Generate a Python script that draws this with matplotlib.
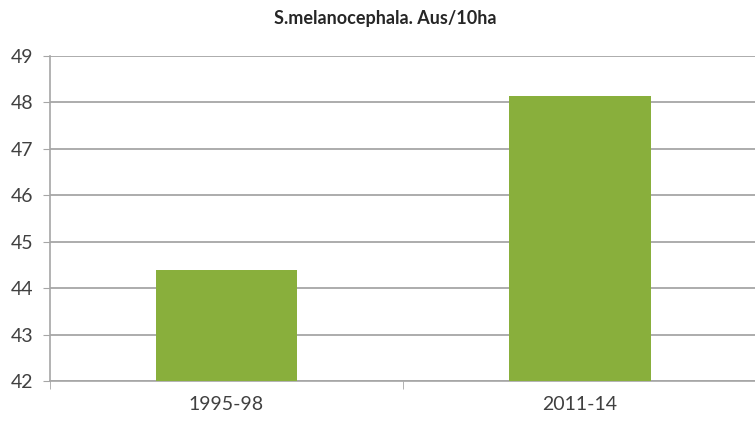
import matplotlib.pyplot as plt
from matplotlib.ticker import FixedLocator

periods = ["1995-98", "2011-14"]
values = [44.4, 48.13]
y_ticks = [42, 43, 44, 45, 46, 47, 48, 49]

plt.rcParams["font.family"] = ["Lato", "DejaVu Sans"]

fig = plt.figure(figsize=(7.55, 4.21), dpi=100)
ax = fig.add_axes([0.066, 0.095, 0.936, 0.772])

x = range(len(periods))
ax.bar(x, values, width=0.4, color="#89AF3C", zorder=3)

ax.set_xlim(-0.5, len(periods) - 0.5)
ax.set_ylim(42, 49)
ax.set_yticks(y_ticks)
ax.set_xticks(list(x))
ax.set_xticklabels(periods)
ax.xaxis.set_minor_locator(FixedLocator([-0.5, 0.5, 1.5]))

ax.grid(axis="y", color="#A6A6A6", linewidth=1.3, zorder=0)
for side in ["top", "right"]:
    ax.spines[side].set_visible(False)
for side in ["left", "bottom"]:
    ax.spines[side].set_color("#A6A6A6")
    ax.spines[side].set_linewidth(1.2)

ax.tick_params(axis="y", length=5, color="#A6A6A6", labelsize=14,
               labelcolor="#404040", pad=7)
ax.tick_params(axis="x", which="major", length=0, labelsize=14,
               labelcolor="#404040", pad=11)
ax.tick_params(axis="x", which="minor", length=6, color="#A6A6A6")

fig.text(0.51, 0.957, "S.melanocephala. Aus/10ha", ha="center", va="center",
         fontsize=13, fontweight="bold", color="#262626")

fig.savefig("out.png", dpi=100)
